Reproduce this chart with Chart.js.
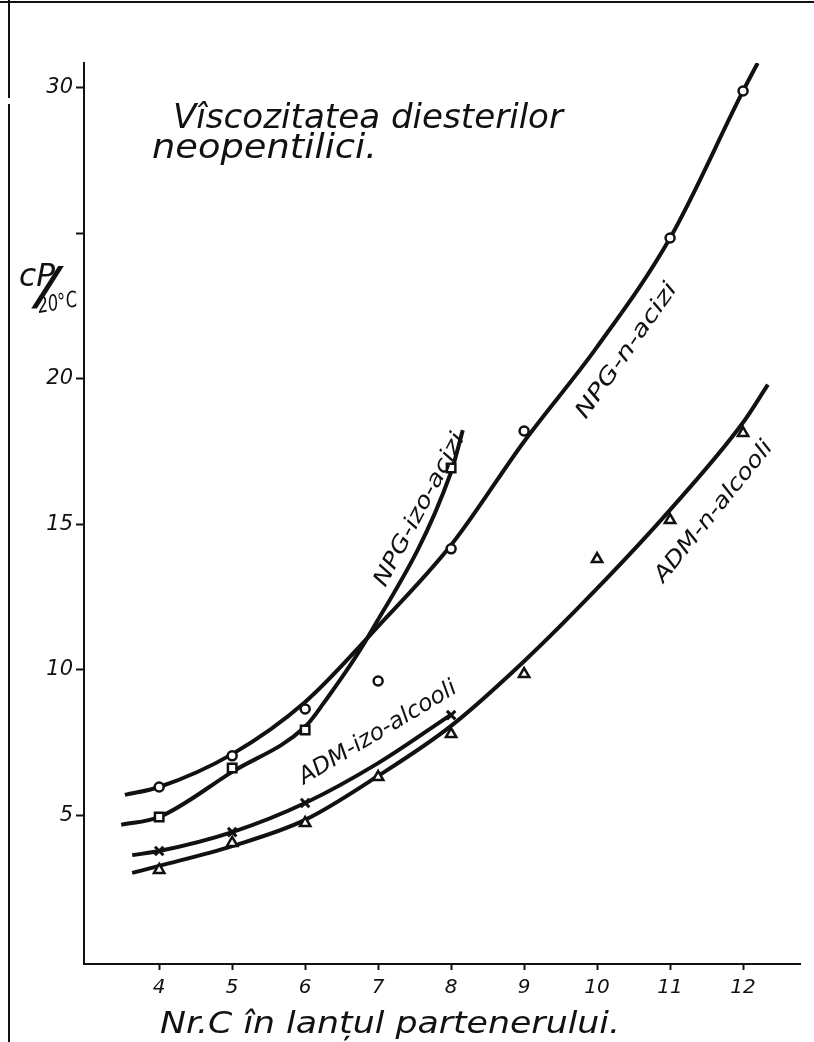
<!DOCTYPE html>
<html>
<head>
<meta charset="utf-8">
<script src="https://cdn.jsdelivr.net/npm/chart.js@4.4.1/dist/chart.umd.min.js"></script>
<style>
  html, body { margin: 0; padding: 0; background: #fff; }
  canvas { display: block; }
</style>
</head>
<body>
<canvas id="chart" width="814" height="1042"></canvas>
<script>
// Axis ticks
const xTicks = [4, 5, 6, 7, 8, 9, 10, 11, 12];
const yTicks = [5, 10, 15, 20, 25, 30];
const yTickLabels = ['5', '10', '15', '20', '', '30'];

// Measured points (Nr. C -> cP at 20 C)
const npgNX = [4, 5, 6, 7, 8, 9, 11, 12];
const npgNY = [5.98, 7.05, 8.66, 9.62, 14.16, 18.21, 24.84, 29.89];
const npgIzoX = [4, 5, 6, 8];
const npgIzoY = [4.95, 6.63, 7.94, 16.94];
const admIzoX = [4, 5, 6, 8];
const admIzoY = [3.78, 4.43, 5.43, 8.45];
const admNX = [4, 5, 6, 7, 8, 9, 10, 11, 12];
const admNY = [3.13, 4.06, 4.74, 6.32, 7.80, 9.86, 13.81, 15.15, 18.14];

// Hand-drawn curves
const npgNCurveX = [3.53, 4, 5, 6, 7, 8, 9, 10, 11, 12, 12.2];
const npgNCurveY = [5.71, 5.98, 7.11, 8.9, 11.5, 14.29, 17.85, 21.1, 24.84, 29.89, 30.85];
const npgIzoCurveX = [3.48, 4, 5, 6, 6.25, 6.86, 8, 8.16];
const npgIzoCurveY = [4.68, 4.95, 6.5, 8.05, 8.85, 11.13, 16.8, 18.24];
const admIzoCurveX = [3.63, 4, 5, 6, 7, 7.99];
const admIzoCurveY = [3.64, 3.78, 4.43, 5.43, 6.8, 8.45];
const admNCurveX = [3.63, 4, 5, 6, 7, 8, 9, 10, 11, 12, 12.34];
const admNCurveY = [3.03, 3.27, 3.95, 4.85, 6.36, 8.08, 10.3, 12.8, 15.5, 18.5, 19.8];

const INK = '#111';
const FONT = '"DejaVu Sans", sans-serif';

function pts(xs, ys) {
    return xs.map((x, i) => ({ x: x, y: ys[i] }));
}

function curve(label, xs, ys) {
    return {
        label: label,
        data: pts(xs, ys),
        showLine: true,
        borderColor: INK,
        borderWidth: 4,
        pointRadius: 0,
        cubicInterpolationMode: 'monotone',
        fill: false,
        order: 2,
    };
}

function markers(label, xs, ys, style, radius, width) {
    return {
        label: label,
        data: pts(xs, ys),
        showLine: false,
        pointStyle: style,
        pointRadius: radius,
        pointBorderWidth: width || 2.5,
        pointBorderColor: INK,
        pointBackgroundColor: '#fff',
        order: 0,
    };
}

// Draw text stretched/squeezed to a target width, optionally rotated
function fitText(ctx, text, x, y, width, size, angle, align, baseline) {
    ctx.save();
    ctx.translate(x, y);
    ctx.rotate(angle * Math.PI / 180);
    ctx.font = 'italic ' + size + 'px ' + FONT;
    let w = ctx.measureText(text).width;
    ctx.scale(width / w, 1);
    ctx.textAlign = align || 'left';
    ctx.textBaseline = baseline || 'alphabetic';
    ctx.fillStyle = INK;
    ctx.fillText(text, 0, 0);
    ctx.restore();
}

const sketchText = {
    id: 'sketchText',
    beforeDraw(chart) {
        let ctx = chart.ctx;
        ctx.save();
        ctx.fillStyle = '#fff';
        ctx.fillRect(0, 0, chart.width, chart.height);
        // scan frame
        ctx.strokeStyle = INK;
        ctx.lineWidth = 2;
        ctx.beginPath();
        ctx.moveTo(0, 2); ctx.lineTo(814, 2);
        ctx.moveTo(9, 0); ctx.lineTo(9, 98);
        ctx.moveTo(9, 104); ctx.lineTo(9, 1042);
        ctx.stroke();
        ctx.restore();
    },
    afterDraw(chart) {
        let ctx = chart.ctx;
        // title
        fitText(ctx, 'Vîscozitatea diesterilor', 173, 128, 390, 34, 0);
        fitText(ctx, 'neopentilici.', 152, 158, 225, 34, 0);
        // y axis unit
        fitText(ctx, 'cP', 19, 286, 36, 32, 0);
        fitText(ctx, '/', 47, 304, 22, 52, 0, 'center');
        fitText(ctx, '20°C', 39, 313, 40, 22, -10);
        // x axis title
        fitText(ctx, 'Nr.C în lanțul partenerului.', 160, 1033, 460, 31, 0);
        // curve labels
        fitText(ctx, 'NPG-izo-acizi', 420, 510, 170, 22, -62, 'center', 'middle');
        fitText(ctx, 'NPG-n-acizi', 627, 351, 160, 22, -55, 'center', 'middle');
        fitText(ctx, 'ADM-n-alcooli', 714, 512, 175, 22, -51, 'center', 'middle');
        fitText(ctx, 'ADM-izo-alcooli', 378, 733, 180, 23, -31, 'center', 'middle');
    }
};

new Chart(document.getElementById('chart'), {
    type: 'scatter',
    data: {
        datasets: [
            markers('NPG-n-acizi', npgNX, npgNY, 'circle', 4.5),
            markers('NPG-izo-acizi', npgIzoX, npgIzoY, 'rect', 6),
            markers('ADM-izo-alcooli', admIzoX, admIzoY, 'crossRot', 6, 3),
            markers('ADM-n-alcooli', admNX, admNY, 'triangle', 6),
            curve('NPG-n-acizi curve', npgNCurveX, npgNCurveY),
            curve('NPG-izo-acizi curve', npgIzoCurveX, npgIzoCurveY),
            curve('ADM-izo-alcooli curve', admIzoCurveX, admIzoCurveY),
            curve('ADM-n-alcooli curve', admNCurveX, admNCurveY),
        ]
    },
    options: {
        responsive: false,
        animation: false,
        layout: { padding: { top: 63, right: 14, left: 0, bottom: 0 } },
        plugins: {
            legend: { display: false },
            tooltip: { enabled: false },
            title: { display: false },
        },
        scales: {
            x: {
                type: 'linear',
                min: 2.97,
                max: 12.78,
                afterBuildTicks: s => { s.ticks = xTicks.map(v => ({ value: v })); },
                afterFit: s => { s.height = 78; },
                ticks: {
                    color: INK,
                    padding: 6,
                    autoSkip: false,
                    maxRotation: 0,
                    font: { family: FONT, size: 20, style: 'italic' },
                },
                grid: { display: true, drawOnChartArea: false, drawTicks: true, tickLength: 6, tickWidth: 2, color: INK },
                border: { display: true, color: INK, width: 2 },
            },
            y: {
                type: 'linear',
                min: -0.1,
                max: 30.85,
                afterBuildTicks: s => { s.ticks = yTicks.map(v => ({ value: v })); },
                afterFit: s => { s.width = 84; },
                ticks: {
                    color: INK,
                    padding: 3,
                    autoSkip: false,
                    callback: v => yTickLabels[yTicks.indexOf(v)],
                    font: { family: FONT, size: 21, style: 'italic' },
                },
                grid: { display: true, drawOnChartArea: false, drawTicks: true, tickLength: 8, tickWidth: 2, color: INK },
                border: { display: true, color: INK, width: 2 },
            }
        }
    },
    plugins: [sketchText]
});
</script>
</body>
</html>
